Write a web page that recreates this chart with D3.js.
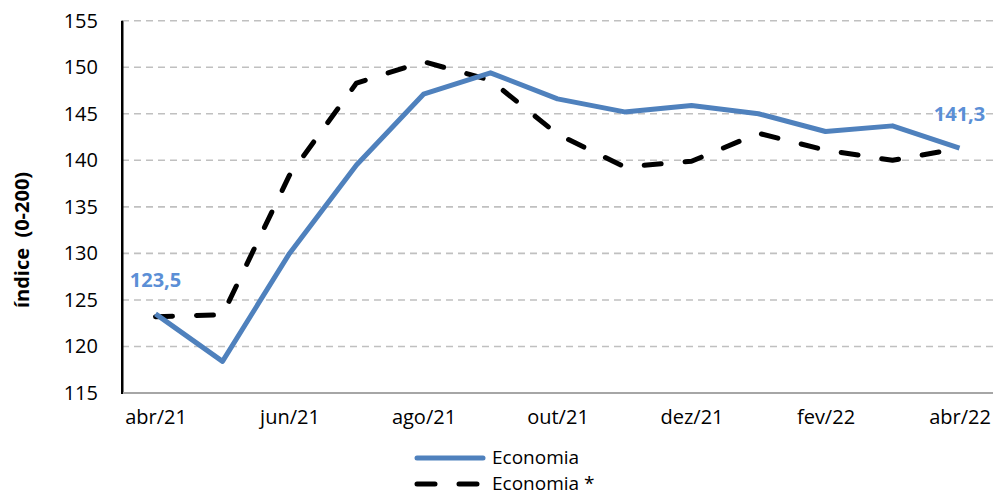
<!DOCTYPE html>
<html>
<head>
<meta charset="utf-8">
<script src="https://cdn.jsdelivr.net/npm/d3@7"></script>
<style>
body { margin: 0; background: white; }
svg { display: block; font-family: "Open Sans", sans-serif; }
</style>
</head>
<body>
<svg></svg>
<script>
var months = ["abr/21","mai/21","jun/21","jul/21","ago/21","set/21","out/21","nov/21","dez/21","jan/22","fev/22","mar/22","abr/22"]
var shownMonths = ["abr/21","jun/21","ago/21","out/21","dez/21","fev/22","abr/22"]
var economia = [123.5, 118.4, 130.0, 139.5, 147.1, 149.4, 146.6, 145.2, 145.9, 145.0, 143.1, 143.7, 141.3]
var economiaStar = [123.2, 123.4, 138.4, 148.3, 150.6, 148.6, 142.8, 139.3, 139.9, 142.9, 141.1, 140.0, 141.3]
var yTicks = [115, 120, 125, 130, 135, 140, 145, 150, 155]
var seriesNames = ["Economia", "Economia *"]

var screen = {width: 997, height: 496}
var margins = {left: 122, right: 4, top: 20.7, bottom: 103}

var svg = d3.select("svg")
    .attr("width", screen.width)
    .attr("height", screen.height)

var xscale = d3.scalePoint()
    .domain(months)
    .range([margins.left, screen.width - margins.right])
    .padding(0.5)

var yscale = d3.scaleLinear()
    .domain([115, 155])
    .range([screen.height - margins.bottom, margins.top])

// gridlines
svg.append("g")
    .selectAll("line")
    .data(yTicks.slice(1))
    .enter()
    .append("line")
    .attr("x1", margins.left)
    .attr("x2", screen.width - margins.right)
    .attr("y1", function(d) {return yscale(d)})
    .attr("y2", function(d) {return yscale(d)})
    .attr("stroke", "#c0c0c0")
    .attr("stroke-width", 1.6)
    .attr("stroke-dasharray", "7,5")

// y axis
var yAxis = d3.axisLeft(yscale)
    .tickValues(yTicks)
    .tickSize(0)
    .tickPadding(24)
    .tickFormat(d3.format("d"))

var yg = svg.append("g")
    .attr("transform", "translate(" + margins.left + ",0)")
    .call(yAxis)
yg.select(".domain").attr("stroke", "black").attr("stroke-width", 2)
yg.selectAll("text").attr("font-size", 20).attr("fill", "#000").attr("font-family", "Open Sans")

// x axis
var xAxis = d3.axisBottom(xscale)
    .tickValues(shownMonths)
    .tickSize(0)
    .tickPadding(17)

var xg = svg.append("g")
    .attr("transform", "translate(0," + yscale(115) + ")")
    .call(xAxis)
xg.select(".domain")
    .attr("stroke", "#a6a6a6")
    .attr("stroke-width", 2)
    .attr("d", "M" + margins.left + ",0H" + (screen.width - margins.right))
xg.selectAll("text").attr("font-size", 20).attr("fill", "#000").attr("font-family", "Open Sans")

// redraw left axis line on top of the bottom one
svg.append("line")
    .attr("x1", margins.left).attr("x2", margins.left)
    .attr("y1", yscale(155)).attr("y2", yscale(115) + 1)
    .attr("stroke", "black").attr("stroke-width", 2)

// y title
svg.append("text")
    .attr("transform", "translate(29,240) rotate(-90)")
    .attr("text-anchor", "middle")
    .attr("font-size", 20)
    .attr("font-weight", "bold")
    .style("white-space", "pre")
    .text("índice  (0-200)")

var line = d3.line()
    .x(function(d, i) {return xscale(months[i])})
    .y(function(d) {return yscale(d)})

svg.append("path")
    .datum(economiaStar)
    .attr("d", line)
    .attr("fill", "none")
    .attr("stroke", "black")
    .attr("stroke-width", 5)
    .attr("stroke-linecap", "round")
    .attr("stroke-linejoin", "round")
    .attr("stroke-dasharray", "17,24")

svg.append("path")
    .datum(economia)
    .attr("d", line)
    .attr("fill", "none")
    .attr("stroke", "#4f81bd")
    .attr("stroke-width", 5)
    .attr("stroke-linejoin", "round")

// value labels for first and last point
var ends = [0, economia.length - 1]
svg.selectAll(".vlabel")
    .data(ends)
    .enter()
    .append("text")
    .attr("class", "vlabel")
    .attr("x", function(i) {return xscale(months[i])})
    .attr("y", function(i) {return yscale(economia[i]) - 27})
    .attr("text-anchor", "middle")
    .attr("font-size", 20)
    .attr("font-weight", "bold")
    .attr("fill", "#5b8fd6")
    .text(function(i) {return d3.format(".1f")(economia[i]).replace(".", ",")})

// legend (rows kept inside the picture and apart)
var legend = svg.append("g")
var legendY = [458, 484]
legend.selectAll("line")
    .data(seriesNames)
    .enter()
    .append("line")
    .attr("x1", 417).attr("x2", 483)
    .attr("y1", function(d, i) {return legendY[i]})
    .attr("y2", function(d, i) {return legendY[i]})
    .attr("stroke", function(d, i) {return i == 0 ? "#4f81bd" : "black"})
    .attr("stroke-width", 5)
    .attr("stroke-linecap", "round")
    .attr("stroke-dasharray", function(d, i) {return i == 0 ? null : "18,24"})
legend.selectAll("text")
    .data(seriesNames)
    .enter()
    .append("text")
    .attr("x", 492)
    .attr("y", function(d, i) {return legendY[i] + 6})
    .attr("font-size", 19)
    .text(function(d) {return d})
</script>
</body>
</html>
